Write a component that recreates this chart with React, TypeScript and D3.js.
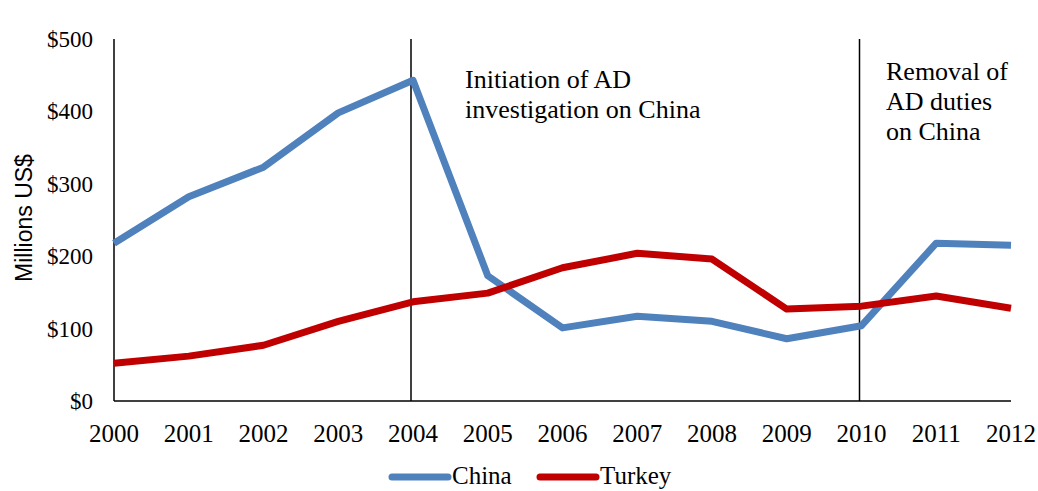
import React from "react";
import * as d3 from "d3";

const years = [2000, 2001, 2002, 2003, 2004, 2005, 2006, 2007, 2008, 2009, 2010, 2011, 2012];
const china = [218, 282, 323, 398, 443, 173, 101, 117, 110, 86, 104, 218, 215];
const turkey = [52, 62, 77, 110, 137, 149, 184, 204, 196, 127, 131, 145, 128];
const yTicks = [0, 100, 200, 300, 400, 500];
const seriesNames = ["China", "Turkey"];
const seriesColors = ["#4F81BD", "#C00000"];
const annotations = [
  { year: 2004, lines: ["Initiation of AD", "investigation on China"] },
  { year: 2010, lines: ["Removal of", "AD duties", "on China"] },
];

const W = 1038;
const H = 491;
const serif = "'Liberation Serif', 'Times New Roman', serif";

export default function App() {
  const x = d3.scaleLinear().domain([2000, 2012]).range([114, 1011]);
  const y = d3.scaleLinear().domain([0, 500]).range([401, 39]);
  const line = d3
    .line<number>()
    .x((_, i) => x(years[i]))
    .y((d) => y(d));
  const data = [china, turkey];

  return (
    <svg
      width={W}
      height={H}
      style={{ position: "absolute", left: 0, top: 0, background: "#fff" }}
      fontFamily={serif}
    >
      {/* axes */}
      <line x1={x(2000)} x2={x(2000)} y1={y(500)} y2={y(0)} stroke="#000" strokeWidth={1.5} />
      <line x1={x(2000)} x2={x(2012)} y1={y(0)} y2={y(0)} stroke="#000" strokeWidth={1.5} />
      {yTicks.map((t) => (
        <text key={t} x={93} y={y(t)} dy="0.35em" textAnchor="end" fontSize={23} fill="#000">
          {"$" + t}
        </text>
      ))}
      {years.map((yr) => (
        <text key={yr} x={x(yr)} y={442} textAnchor="middle" fontSize={25} fill="#000">
          {yr}
        </text>
      ))}
      <text
        transform={`translate(32, ${y(250) - 2}) rotate(-90)`}
        textAnchor="middle"
        fontFamily="'Liberation Sans', Arial, sans-serif"
        fontSize={23}
        fill="#000"
      >
        Millions US$
      </text>
      {/* annotation lines */}
      {annotations.map((a) => (
        <line
          key={a.year}
          x1={x(a.year) - 2}
          x2={x(a.year) - 2}
          y1={y(500)}
          y2={y(0)}
          stroke="#000"
          strokeWidth={1.5}
        />
      ))}
      {/* series */}
      {data.map((s, i) => (
        <path
          key={seriesNames[i]}
          d={line(s) || ""}
          fill="none"
          stroke={seriesColors[i]}
          strokeWidth={7}
          strokeLinejoin="round"
        />
      ))}
      {/* annotation texts */}
      {annotations.map((a, ai) => (
        <text
          key={"t" + a.year}
          x={ai === 0 ? 465 : 886}
          y={ai === 0 ? 88 : 80}
          fontSize={26}
          fill="#000"
        >
          {a.lines.map((l, li) => (
            <tspan key={li} x={ai === 0 ? 465 : 886} dy={li === 0 ? 0 : 30}>
              {l}
            </tspan>
          ))}
        </text>
      ))}
      {/* legend */}
      {seriesNames.map((n, i) => {
        const lx = i === 0 ? 392 : 540;
        return (
          <g key={n}>
            <line
              x1={lx}
              x2={lx + 56}
              y1={477}
              y2={477}
              stroke={seriesColors[i]}
              strokeWidth={7}
              strokeLinecap="round"
            />
            <text x={lx + 60} y={484} fontSize={25} fill="#000">
              {n}
            </text>
          </g>
        );
      })}
    </svg>
  );
}
